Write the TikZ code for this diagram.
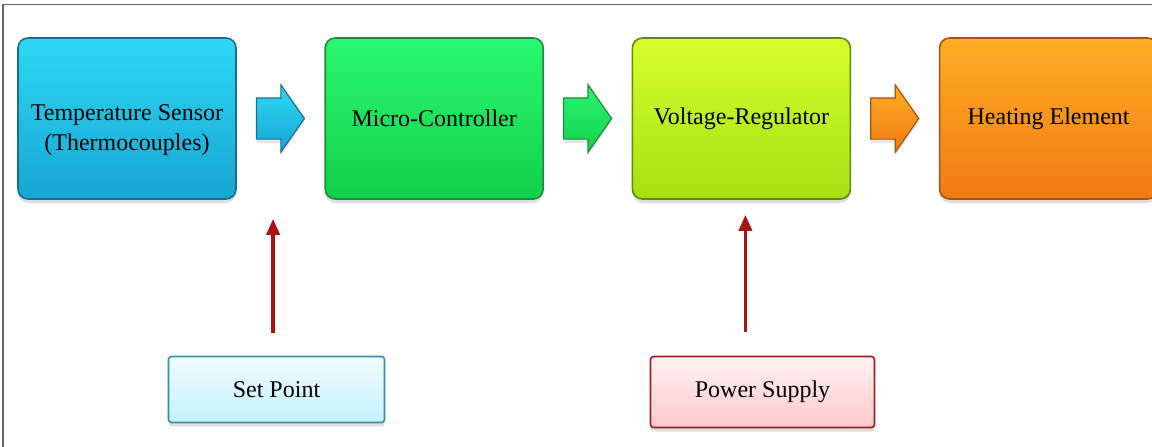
\documentclass[tikz,border=0pt]{standalone}
\usepackage{fontspec}
\setmainfont{Liberation Serif}
\usepackage{xcolor}
\usetikzlibrary{arrows.meta,positioning,shapes.arrows,shadows}

\definecolor{sensortop}{HTML}{2ED8F4}
\definecolor{sensorbot}{HTML}{16A6D2}
\definecolor{sensoredge}{HTML}{1A6E8E}
\definecolor{mcutop}{HTML}{2AF872}
\definecolor{mcubot}{HTML}{12D048}
\definecolor{mcuedge}{HTML}{1E8A3C}
\definecolor{regtop}{HTML}{D6FF2C}
\definecolor{regbot}{HTML}{A6E012}
\definecolor{regedge}{HTML}{5E8A14}
\definecolor{heattop}{HTML}{FFAE24}
\definecolor{heatbot}{HTML}{F07A12}
\definecolor{heatedge}{HTML}{A85212}
\definecolor{sptop}{HTML}{F0FCFF}
\definecolor{spbot}{HTML}{C4F2FC}
\definecolor{spedge}{HTML}{3A8CB0}
\definecolor{pstop}{HTML}{FFF2F2}
\definecolor{psbot}{HTML}{FFC8CA}
\definecolor{psedge}{HTML}{9A2222}
\definecolor{feedred}{HTML}{A81414}
\definecolor{framegray}{HTML}{666666}

\begin{document}
\begin{tikzpicture}[
  x=0.5pt,y=-0.5pt,
  font=\fontsize{12}{15}\selectfont,
  block/.style={rectangle,rounded corners=5pt,draw,line width=0.8pt,minimum width=109pt,minimum height=80.5pt,align=center,
    drop shadow={shadow xshift=0pt,shadow yshift=-2pt,opacity=0.25}},
  flow/.style={single arrow,draw,line width=0.6pt,inner xsep=0pt,inner ysep=10pt,minimum height=24pt,
    single arrow head extend=6.5pt,single arrow tip angle=110,
    drop shadow={shadow xshift=0pt,shadow yshift=-2pt,opacity=0.2}},
  input/.style={rectangle,rounded corners=1.5pt,draw,line width=0.8pt,align=center,
    drop shadow={shadow xshift=0pt,shadow yshift=-2pt,opacity=0.25}},
  feed/.style={-{Triangle[length=8pt,width=6.5pt]},line width=1.8pt,draw=feedred,fill=feedred}
]
  \useasboundingbox (0,0) rectangle (1152,446);
  \draw[framegray,line width=0.8pt] (3,460) -- (3,4.5) -- (1170,4.5);

  \node[block,top color=sensortop,bottom color=sensorbot,draw=sensoredge] (ts) at (127,118.5) {\rule{0pt}{19.5pt}Temperature Sensor\\(Thermocouples)};
  \node[block,top color=mcutop,bottom color=mcubot,draw=mcuedge,right=43.8pt of ts] (mc) {Micro-Controller};
  \node[block,top color=regtop,bottom color=regbot,draw=regedge,right=43.8pt of mc] (vr) {Voltage-Regulator};
  \node[block,top color=heattop,bottom color=heatbot,draw=heatedge,right=43.8pt of vr] (he) {Heating Element};

  \node[flow,top color=sensortop,bottom color=sensorbot,draw=sensoredge,right=9.5pt of ts] (f1) {};
  \node[flow,top color=mcutop,bottom color=mcubot,draw=mcuedge,right=9.5pt of mc] (f2) {};
  \node[flow,top color=heattop,bottom color=heatbot,draw=heatedge,right=9.5pt of vr] (f3) {};

  \node[input,top color=sptop,bottom color=spbot,draw=spedge,minimum width=108pt,minimum height=33pt] (sp) at (276.5,389.5) {Set Point};
  \node[input,top color=pstop,bottom color=psbot,draw=psedge,minimum width=112pt,minimum height=35.5pt] (ps) at (762.5,392) {Power Supply};

  \draw[feed,shorten <=11.5pt,shorten >=9.5pt] ([xshift=-1.7pt]sp.north) -- ([xshift=-1.7pt]sp |- ts.south);
  \draw[feed,shorten <=12pt,shorten >=7.5pt] ([xshift=2pt]vr.south |- ps.north) -- ([xshift=2pt]vr.south);
\end{tikzpicture}
\end{document}
